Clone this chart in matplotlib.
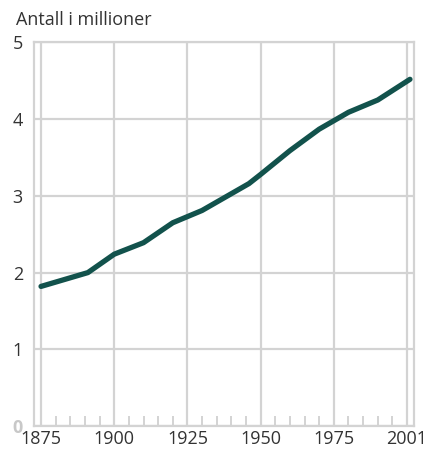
import matplotlib.pyplot as plt
from matplotlib.ticker import MultipleLocator

years = [1875, 1891, 1900, 1910, 1920, 1930, 1946, 1950, 1960, 1970, 1980, 1990, 2001]
population = [1.82, 2.00, 2.24, 2.39, 2.65, 2.81, 3.16, 3.28, 3.59, 3.87, 4.09, 4.25, 4.52]

x_ticks = [1875, 1900, 1925, 1950, 1975, 2000]
x_labels = ["1875", "1900", "1925", "1950", "1975", "2001"]
y_ticks = [0, 1, 2, 3, 4, 5]

grid_col = "#d3d3d3"
text_col = "#333333"

plt.rcParams['font.family'] = ['Open Sans', 'DejaVu Sans']

fig = plt.figure(figsize=(4.26, 4.5), dpi=100)
ax = fig.add_axes([0.0798, 0.0533, 0.8922, 0.8523])

ax.plot(years, population, color="#12524c", linewidth=3.8,
        solid_capstyle="round", solid_joinstyle="round", zorder=3)

ax.set_xlim(1872.6, 2002.4)
ax.set_ylim(0, 5)

ax.set_xticks(x_ticks)
ax.set_xticklabels(x_labels)
ax.set_yticks(y_ticks)
ax.xaxis.set_minor_locator(MultipleLocator(5))

ax.grid(True, which="major", color=grid_col, linewidth=1.6, zorder=1)
for s in ax.spines.values():
    s.set_color(grid_col)
    s.set_linewidth(1.6)

ax.tick_params(axis="x", which="major", length=0, pad=3, labelsize=13, labelcolor=text_col)
ax.tick_params(axis="x", which="minor", direction="in", length=7, width=1.4, color=grid_col)
ax.tick_params(axis="y", which="major", length=0, pad=8, labelsize=13, labelcolor=text_col)

zero = ax.get_yticklabels()[0]
zero.set_color("#c8c8c8")
zero.set_fontweight("bold")

fig.text(0.037, 0.955, "Antall i millioner", fontsize=13, color=text_col,
         ha="left", va="center")

fig.savefig("out.png", dpi=100)
